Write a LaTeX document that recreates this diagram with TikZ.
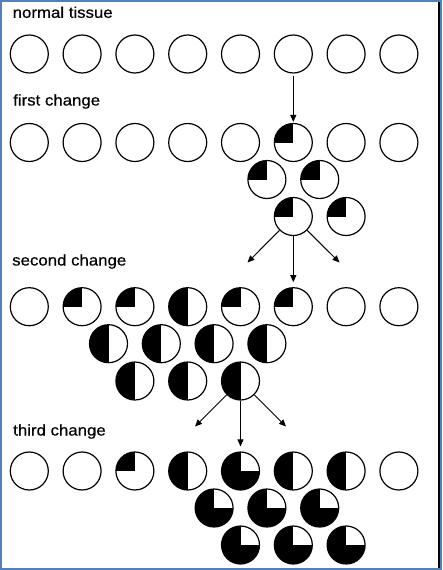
\documentclass[tikz,border=0pt]{standalone}
\usepackage{fontspec}
\setmainfont{Liberation Sans}
\newfontfamily\lblfont[FakeStretch=1.085,FakeBold=0.4]{Liberation Sans}
\usetikzlibrary{arrows.meta}
\definecolor{frameblue}{HTML}{4F81BD}
\tikzset{
  cell/.style={circle, draw, line width=1.2pt, minimum size=38pt, inner sep=0pt, fill=white},
  quarter/.style={cell, path picture={\fill[black] (path picture bounding box.center) rectangle (path picture bounding box.north west);}},
  half/.style={cell, path picture={\fill[black] (path picture bounding box.south west) rectangle (path picture bounding box.north);}},
  threeq/.style={cell, path picture={\fill[black] (path picture bounding box.south west) rectangle (path picture bounding box.north);
      \fill[black] (path picture bounding box.south west) rectangle (path picture bounding box.east);}},
  arr/.style={-{Triangle[length=7pt,width=6pt]}, line width=1pt},
  lbl/.style={anchor=base west, inner sep=0pt, font=\lblfont\fontsize{15.5}{18}\selectfont},
}
\begin{document}
\begin{tikzpicture}[x=1pt,y=-1pt]
\fill[frameblue] (0,0) rectangle (442,570);
\fill[white] (2,2) rectangle (438,568);
\fill[black] (438,2) rectangle (440,568);
\useasboundingbox (0,0) rectangle (442,570);

% labels
\node[lbl] (t1) at (12.5,17.8) {normal tissue};
\node[lbl] (t2) at (13,105.5) {first change};
\node[lbl] (t3) at (12,265.5) {second change};
\node[lbl] (t4) at (13,435.5) {third change};

% normal tissue
\foreach \i in {0,...,7}
  \node[cell] (a\i) at ({29.3+52.8*\i},54) {};

% first change
\foreach \i/\s in {0/cell,1/cell,2/cell,3/cell,4/cell,5/quarter,6/cell,7/cell}
  \node[\s] (b\i) at ({29.3+52.8*\i},142.5) {};
\node[quarter] (bu1) at ({29.3+52.8*4.5},179.5) {};
\node[quarter] (bu2) at ({29.3+52.8*5.5},179.5) {};
\node[quarter] (bv1) at ({29.3+52.8*5},216.5) {};
\node[quarter] (bv2) at ({29.3+52.8*6},216.5) {};

% second change
\foreach \i/\s in {0/cell,1/quarter,2/quarter,3/half,4/quarter,5/quarter,6/cell,7/cell}
  \node[\s] (c\i) at ({29.3+52.8*\i},306.7) {};
\foreach \k/\p in {1/1.5,2/2.5,3/3.5,4/4.5}
  \node[half] (cu\k) at ({29.3+52.8*\p},343.7) {};
\foreach \k/\p in {1/2,2/3,3/4}
  \node[half] (cv\k) at ({29.3+52.8*\p},381) {};

% third change
\foreach \i/\s in {0/cell,1/cell,2/quarter,3/half,4/threeq,5/half,6/half,7/cell}
  \node[\s] (d\i) at ({29.3+52.8*\i},471) {};
\foreach \k/\p in {1/3.5,2/4.5,3/5.5}
  \node[threeq] (du\k) at ({29.3+52.8*\p},508) {};
\foreach \k/\p in {1/4,2/5,3/6}
  \node[threeq] (dv\k) at ({29.3+52.8*\p},545) {};

% arrows
\draw[arr, shorten <=2pt, shorten >=1pt] (a5) -- (b5);

\coordinate (l1) at (247.5,262.5);
\coordinate (r1) at (339.5,262.5);
\draw[arr] (bv1) -- (l1);
\draw[arr] (bv1) -- (r1);
\draw[arr, shorten >=5pt] (bv1) -- (c5);

\coordinate (l2) at (195,426.5);
\coordinate (r2) at (286,426.5);
\draw[arr] (cv3) -- (l2);
\draw[arr] (cv3) -- (r2);
\draw[arr, shorten >=5pt] (cv3) -- (d4);
\end{tikzpicture}
\end{document}
